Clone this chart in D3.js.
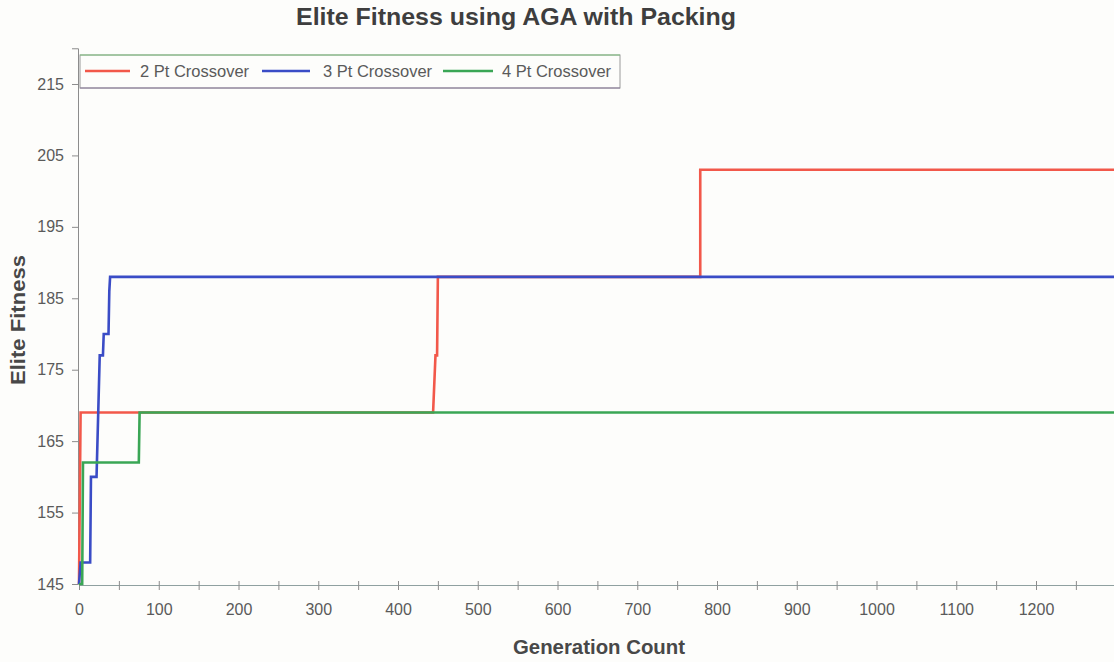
<!DOCTYPE html>
<html><head><meta charset="utf-8">
<script src="https://cdn.jsdelivr.net/npm/d3@7"></script>
<style>
html,body{margin:0;padding:0;background:#fdfdfb;}
svg{display:block;font-family:"Liberation Sans",Arial,sans-serif;}
</style></head>
<body><svg id="chart" width="1114" height="662"></svg>
<script>
// Data (generation, elite fitness)
const seriesNames = ["2 Pt Crossover", "3 Pt Crossover", "4 Pt Crossover"];
const seriesColors = ["#f2584a", "#3a4cc6", "#3aa655"];
const pt2 = [[0,145],[2,169],[444,169],[447,177],[449,177],[450,188],[779,188],[779,203],[1300,203]];
const pt3 = [[0,145],[2,148],[14,148],[15,160],[22,160],[26,177],[30,177],[31,180],[37,180],[38,186],[39,188],[1300,188]];
const pt4 = [[0,145],[4,145],[5,162],[75,162],[76,169],[1300,169]];
const yTicks = [145,155,165,175,185,195,205,215];
const xLabels = [0,100,200,300,400,500,600,700,800,900,1000,1100,1200];
const xMinorTicks = d3.range(0, 1301, 50);

const svg = d3.select("#chart");
const W = 1114, H = 662;
svg.append("rect").attr("width",W).attr("height",H).attr("fill","#fdfdfb");

const x = d3.scaleLinear().domain([0,1300]).range([79, 79 + 1300*0.7975]);
const y = d3.scaleLinear().domain([145,220]).range([584, 584 - 75*7.143]);

// Title
svg.append("text").attr("x",516).attr("y",25).attr("text-anchor","middle")
  .attr("font-size",23).attr("font-weight","bold").attr("fill","#3e3e3e")
  .attr("textLength",440).attr("lengthAdjust","spacingAndGlyphs")
  .text("Elite Fitness using AGA with Packing");

// Axes
const yAxis = d3.axisLeft(y).tickValues(yTicks).tickSize(6).tickPadding(8).tickFormat(d3.format("d"));
const gy = svg.append("g").attr("transform",`translate(${x(0)-1},0)`).call(yAxis);
gy.attr("font-size",16);
gy.select(".domain").attr("stroke","#8c8c8c");
gy.selectAll(".tick line").attr("stroke","#8c8c8c");
gy.selectAll("text").attr("font-size",16).attr("fill","#5a5a5a").attr("font-family","Liberation Sans, Arial, sans-serif");

const xAxis = d3.axisBottom(x).tickValues(xMinorTicks).tickSize(5).tickPadding(14)
  .tickFormat(d => xLabels.includes(d) ? d : "");
const gx = svg.append("g").attr("transform",`translate(0,${y(145)+1})`).call(xAxis);
gx.attr("font-size",16);
gx.select(".domain").attr("stroke","#8fa0a0");
gx.selectAll(".tick line").attr("stroke","#8c8c8c").attr("y1",-4);
gx.selectAll("text").attr("font-size",16).attr("fill","#5a5a5a").attr("font-family","Liberation Sans, Arial, sans-serif");

// Axis titles
svg.append("text").attr("x",599).attr("y",654).attr("text-anchor","middle")
  .attr("font-size",20).attr("font-weight","bold").attr("fill","#484848")
  .attr("textLength",172).attr("lengthAdjust","spacingAndGlyphs").text("Generation Count");
svg.append("text").attr("transform","translate(25,320) rotate(-90)").attr("text-anchor","middle")
  .attr("font-size",20).attr("font-weight","bold").attr("fill","#484848")
  .attr("textLength",130).attr("lengthAdjust","spacingAndGlyphs").text("Elite Fitness");

// Lines
const line = d3.line().x(d=>x(d[0])).y(d=>y(d[1]));
[pt2, pt3, pt4].forEach((s,i)=>{
  svg.append("path").datum(s).attr("d",line).attr("fill","none")
    .attr("stroke",seriesColors[i]).attr("stroke-width",2.6).attr("stroke-linejoin","miter");
});

// Legend
const lg = svg.append("g");
lg.append("rect").attr("x",80).attr("y",55).attr("width",540).attr("height",33)
  .attr("fill","#fdfdfb").attr("stroke","#9a9a9a").attr("stroke-width",1);
lg.append("line").attr("x1",80).attr("x2",620).attr("y1",55).attr("y2",55).attr("stroke","#7cc07c");
lg.append("line").attr("x1",80).attr("x2",620).attr("y1",88).attr("y2",88).attr("stroke","#8a7a9a");
const legX = [[85,130,140],[262,310,323],[443,493,502]];
seriesNames.forEach((n,i)=>{
  lg.append("line").attr("x1",legX[i][0]).attr("x2",legX[i][1]).attr("y1",71).attr("y2",71)
    .attr("stroke",seriesColors[i]).attr("stroke-width",2.6);
  lg.append("text").attr("x",legX[i][2]).attr("y",77).attr("font-size",16.5).attr("fill","#5a5a5a").text(n);
});
</script></body></html>
